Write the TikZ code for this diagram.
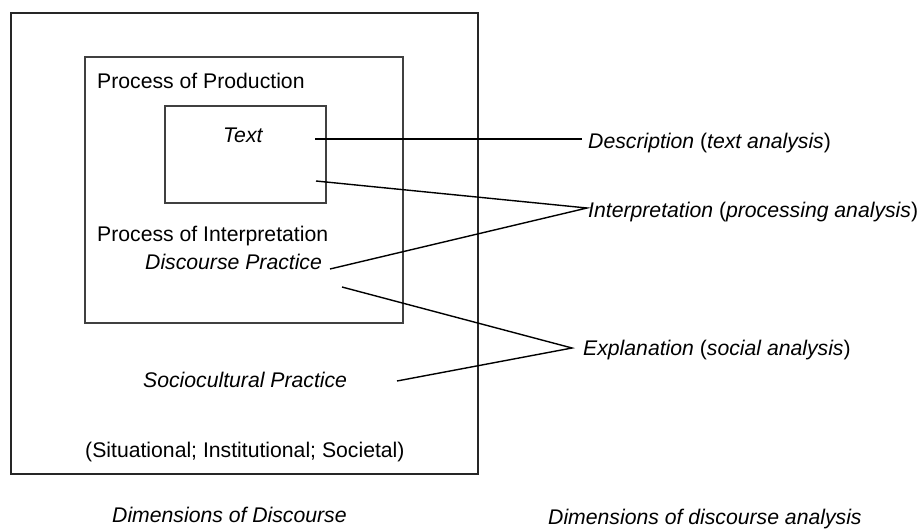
\documentclass[tikz,border=0pt]{standalone}
\usepackage{fontspec}
\setmainfont{Liberation Sans}
\begin{document}
\begin{tikzpicture}[x=1pt,y=-1pt,
  lbl/.style={anchor=base west,inner sep=0pt,font=\fontsize{21.2}{25}\selectfont},
  ilbl/.style={lbl,font=\fontsize{21.2}{25}\selectfont\itshape},
  outerbox/.style={draw=black!85,line width=1.4pt},
  innerbox/.style={draw=black!75,line width=2pt},
  conn/.style={draw=black,line width=1.4pt}]
\useasboundingbox[fill=white] (0,0) rectangle (918,530);
% boxes
\draw[outerbox] (11,13) rectangle (478,474);
\draw[innerbox] (85,57) rectangle (403,323);
\draw[innerbox] (165,106) rectangle (326,203);
% texts in boxes
\node[lbl] (prod) at (97,88) {Process of Production};
\node[ilbl] (text) at (223,142) {Text};
\node[lbl] (interp) at (97,241) {Process of Interpretation};
\node[ilbl] (dp) at (145,269) {Discourse Practice};
\node[ilbl] (sp) at (143,387) {Sociocultural Practice};
\node[lbl] (sit) at (85,457) {(Situational; Institutional; Societal)};
\node[ilbl] (dimd) at (112,522) {Dimensions of Discourse};
\node[ilbl] (dima) at (548,524) {Dimensions of discourse analysis};
% right labels
\node[lbl] (desc) at (588,148) {\textit{Description} (\textit{text analysis})};
\node[lbl] (intr) at (588,217) {\textit{Interpretation} (\textit{processing analysis})};
\node[lbl] (expl) at (583,355) {\textit{Explanation} (\textit{social analysis})};
% connector endpoints
\coordinate (t1) at (315,139);
\coordinate (d1) at (582,139);
\coordinate (t2) at (316,181);
\coordinate (i1) at (587,208);
\coordinate (dp1) at (330,269);
\coordinate (dp2) at (342,287);
\coordinate (e1) at (572,348);
\coordinate (sp1) at (397,381);
% connectors
\draw[conn] (t1) -- (d1);
\draw[conn] (t2) -- (i1) -- (dp1);
\draw[conn] (dp2) -- (e1) -- (sp1);
\end{tikzpicture}
\end{document}
